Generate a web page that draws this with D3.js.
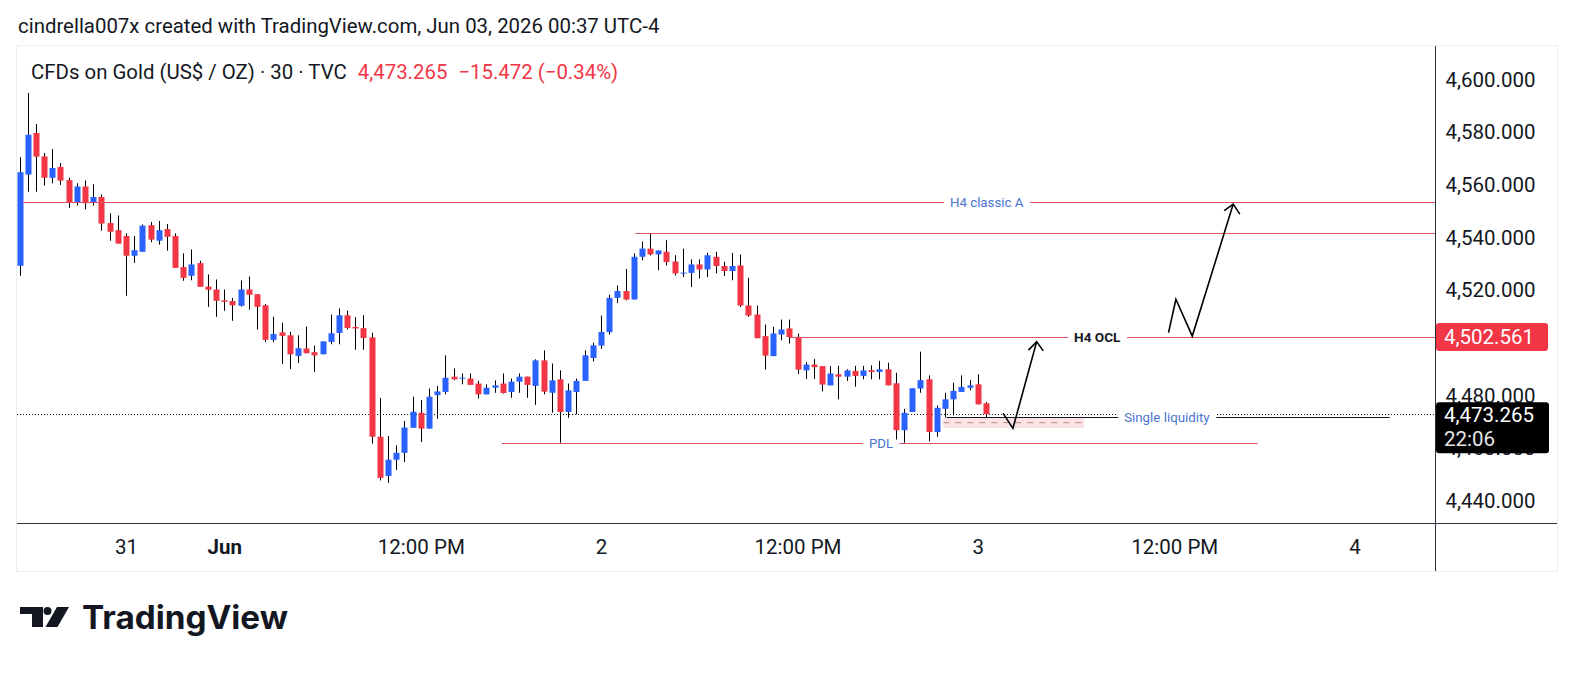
<!DOCTYPE html>
<html>
<head>
<meta charset="utf-8">
<script src="https://cdn.jsdelivr.net/npm/d3@7/dist/d3.min.js"></script>
<style>
  body { margin: 0; background: #fff; }
  svg { display: block; font-family: Roboto, "Noto Sans", sans-serif; }
</style>
</head>
<body>
<svg id="chart" width="1574" height="673"></svg>
<script>
// 30 min bars, index 0 = May 29 10:30 ... index 118 = Jun 3 00:30
const opens = [
  4529.6, 4564.2, 4580.0, 4571.1, 4563.0, 4567.1, 4562.1, 4553.7, 4559.7, 4553.7,
  4555.7, 4545.8, 4543.1, 4540.9, 4533.4, 4534.9, 4545.0, 4539.1, 4543.5, 4540.9,
  4529.1, 4525.8, 4530.6, 4521.7, 4520.6, 4516.5, 4516.2, 4514.4, 4520.6, 4518.8,
  4514.6, 4501.5, 4504.3, 4503.2, 4495.4, 4498.2, 4496.8, 4496.0, 4500.7, 4504.1,
  4510.8, 4506.4, 4505.9, 4502.4, 4464.7, 4449.8, 4456.0, 4458.6, 4468.1, 4473.8,
  4467.8, 4480.5, 4481.7, 4487.5, 4487.0, 4486.8, 4484.9, 4480.8, 4483.3, 4484.9,
  4481.7, 4485.6, 4487.5, 4484.0, 4493.7, 4481.4, 4486.5, 4474.1, 4481.7, 4485.9,
  4494.6, 4499.3, 4504.4, 4517.4, 4520.0, 4516.8, 4533.0, 4536.1, 4533.9, 4534.9,
  4531.2, 4526.9, 4526.9, 4530.1, 4528.2, 4533.0, 4529.5, 4527.6, 4529.7, 4514.5,
  4511.1, 4502.9, 4495.3, 4503.5, 4505.8, 4502.6, 4489.9, 4492.1, 4491.5, 4484.2,
  4488.4, 4487.5, 4489.7, 4487.8, 4490.0, 4489.3, 4490.3, 4485.0, 4467.2, 4474.1,
  4483.0, 4486.5, 4466.5, 4475.3, 4478.9, 4481.7, 4483.3, 4484.6, 4477.4
];
const highs = [
  4570.8, 4595.2, 4583.4, 4572.4, 4573.9, 4568.6, 4563.0, 4560.9, 4562.0, 4560.5,
  4556.7, 4549.5, 4548.7, 4541.9, 4540.9, 4545.3, 4546.2, 4546.6, 4545.4, 4541.9,
  4534.3, 4535.8, 4531.5, 4526.3, 4524.4, 4520.6, 4517.4, 4524.0, 4525.5, 4518.8,
  4515.1, 4510.3, 4508.0, 4504.5, 4503.2, 4506.5, 4499.3, 4500.9, 4511.1, 4513.4,
  4512.6, 4510.1, 4510.8, 4504.2, 4479.4, 4465.0, 4461.4, 4470.7, 4479.9, 4478.7,
  4483.0, 4484.0, 4495.6, 4490.6, 4488.7, 4488.7, 4485.9, 4484.6, 4486.1, 4488.7,
  4486.8, 4488.7, 4487.5, 4494.1, 4497.5, 4492.5, 4489.9, 4484.9, 4486.8, 4497.5,
  4500.4, 4510.7, 4518.6, 4522.1, 4528.4, 4534.3, 4538.8, 4541.9, 4535.4, 4539.3,
  4533.6, 4536.1, 4532.0, 4532.0, 4534.5, 4534.9, 4531.1, 4534.5, 4533.9, 4525.0,
  4514.5, 4507.3, 4506.4, 4509.2, 4509.2, 4503.9, 4493.0, 4494.2, 4491.5, 4491.5,
  4491.6, 4490.3, 4491.6, 4491.6, 4491.8, 4493.5, 4492.8, 4489.0, 4475.3, 4483.1,
  4497.0, 4488.0, 4476.6, 4481.4, 4485.2, 4488.0, 4486.2, 4488.4, 4477.9
];
const lows = [
  4525.8, 4557.7, 4557.7, 4560.0, 4560.9, 4560.3, 4551.6, 4552.4, 4551.0, 4552.4,
  4542.9, 4539.1, 4538.0, 4518.2, 4530.7, 4534.9, 4538.5, 4537.6, 4535.3, 4528.8,
  4523.9, 4524.1, 4521.6, 4514.0, 4510.2, 4512.5, 4508.7, 4514.1, 4512.9, 4505.4,
  4500.7, 4500.7, 4492.3, 4490.4, 4492.7, 4496.4, 4489.3, 4496.0, 4499.8, 4499.8,
  4505.4, 4497.7, 4497.7, 4462.1, 4448.1, 4447.2, 4452.1, 4455.1, 4468.1, 4462.7,
  4467.8, 4471.5, 4480.8, 4486.2, 4484.6, 4484.4, 4479.2, 4480.8, 4481.4, 4481.1,
  4479.5, 4481.4, 4479.5, 4476.8, 4480.8, 4473.8, 4462.4, 4471.9, 4473.2, 4485.9,
  4493.3, 4498.0, 4503.5, 4515.5, 4516.5, 4516.8, 4531.7, 4533.5, 4527.9, 4529.7,
  4525.9, 4525.3, 4521.5, 4524.8, 4525.3, 4526.7, 4525.7, 4524.1, 4514.0, 4510.2,
  4502.1, 4490.2, 4495.3, 4501.3, 4500.1, 4488.5, 4486.6, 4486.6, 4481.9, 4484.2,
  4478.9, 4485.9, 4483.7, 4486.5, 4486.5, 4486.5, 4484.2, 4462.4, 4462.4, 4474.1,
  4481.4, 4463.0, 4464.7, 4471.3, 4472.8, 4481.7, 4482.4, 4477.0, 4471.3
];
const closes = [
  4565.1, 4579.3, 4571.0, 4563.0, 4566.7, 4561.9, 4553.7, 4559.7, 4553.3, 4555.7,
  4545.6, 4542.5, 4538.0, 4533.4, 4535.5, 4544.8, 4539.5, 4543.1, 4540.6, 4528.8,
  4525.0, 4530.1, 4521.6, 4520.5, 4516.3, 4515.9, 4514.6, 4520.6, 4518.6, 4514.0,
  4501.5, 4503.7, 4503.0, 4496.0, 4498.3, 4496.4, 4495.6, 4500.9, 4504.0, 4510.8,
  4506.0, 4505.8, 4502.2, 4464.7, 4449.1, 4456.0, 4458.6, 4468.2, 4474.2, 4467.8,
  4479.9, 4481.9, 4487.1, 4486.5, 4487.1, 4484.4, 4480.8, 4483.3, 4484.2, 4481.3,
  4485.6, 4487.5, 4484.4, 4493.7, 4481.8, 4486.1, 4474.1, 4482.3, 4485.9, 4495.6,
  4499.4, 4504.5, 4517.4, 4520.0, 4516.8, 4533.0, 4536.1, 4533.9, 4535.4, 4531.0,
  4526.7, 4527.0, 4530.1, 4528.2, 4533.6, 4529.5, 4527.6, 4529.5, 4514.5, 4510.7,
  4502.1, 4495.5, 4503.9, 4505.4, 4502.5, 4490.2, 4492.1, 4491.1, 4484.5, 4488.7,
  4487.5, 4489.9, 4487.8, 4489.9, 4489.3, 4490.3, 4484.2, 4467.2, 4473.8, 4483.1,
  4486.2, 4466.5, 4475.7, 4478.9, 4482.1, 4483.6, 4484.2, 4477.0, 4473.265
];

const timeTickIdx = [13, 25, 49, 71, 95, 117, 141, 163];
const timeTickText = ["31", "Jun", "12:00 PM", "2", "12:00 PM", "3", "12:00 PM", "4"];
// 4,500.000 sits under the red level label, so it is not listed
const priceTicks = [4440, 4460, 4480, 4520, 4540, 4560, 4580, 4600];

const lastPrice = 4473.265;
const levelPrice = 4502.561;

// drawn levels
const levelStart = [0.4, 75.2, 94.1, 58.9, 113.2];
const levelEnd = [175, 175, 175, 151.2, 167.3];
const levelPriceArr = [4553.7, 4542.2, 4502.561, 4462.3, 4472.1];
const levelLabel = ["H4 classic A", "", "H4 OCL", "PDL", "Single liquidity"];
const levelLabelIdx = [118.1, 0, 131.6, 105.2, 140.1];

// zone box below the liquidity line
const boxIdx = [112.8, 130.0];
const boxPrice = [4472.1, 4468.0];

// hand-drawn arrows: [idx, price]
const arrow1 = [[120.1, 4473.6], [121.3, 4467.9], [124.2, 4500.8]];
const arrow1Head = [[123.2, 4497.6], [124.2, 4500.8], [125.0, 4497.3]];
const arrow2 = [[140.3, 4504.2], [141.2, 4516.9], [143.2, 4502.9], [148.2, 4553.0]];
const arrow2Head = [[147.1, 4550.5], [148.2, 4553.0], [149.0, 4549.2]];

const upColor = "#2962ff", downColor = "#f23645", lineRed = "#e0505f", textBlue = "#4a74cf";

const plotL = 17, plotR = 1435, plotT = 46, plotB = 523, frameR = 1557, frameB = 571;

const svg = d3.select("#chart");

const x = d3.scaleLinear().domain([0, 118]).range([19.5, 985.9]);
const y = d3.scaleLinear().domain([4440, 4600]).range([501.85, 80.25]);

// header
svg.append("text").attr("x", 18).attr("y", 33)
  .attr("font-size", 20.4).attr("fill", "#131722")
  .text("cindrella007x created with TradingView.com, Jun 03, 2026 00:37 UTC-4");

// frame
svg.append("rect").attr("x", plotL - 0.5).attr("y", plotT - 0.5)
  .attr("width", frameR - plotL + 1).attr("height", frameB - plotT + 1)
  .attr("fill", "none").attr("stroke", "#eceef2");

svg.append("defs").append("clipPath").attr("id", "plot")
  .append("rect").attr("x", plotL).attr("y", plotT)
  .attr("width", plotR - plotL).attr("height", plotB - plotT);

const plot = svg.append("g").attr("clip-path", "url(#plot)");

// current price dotted line
plot.append("line")
  .attr("x1", plotL).attr("x2", plotR)
  .attr("y1", Math.round(y(lastPrice)) + 0.5).attr("y2", Math.round(y(lastPrice)) + 0.5)
  .attr("stroke", "#131722").attr("stroke-dasharray", "1,2");

// candles
const bars = d3.range(opens.length);
plot.selectAll(".wick").data(bars).enter().append("line")
  .attr("x1", i => Math.round(x(i)) + 0.5).attr("x2", i => Math.round(x(i)) + 0.5)
  .attr("y1", i => y(highs[i])).attr("y2", i => y(lows[i]))
  .attr("stroke", "#000").attr("stroke-width", 1);

plot.selectAll(".body").data(bars).enter().append("rect")
  .attr("x", i => Math.round(x(i)) - 2.5)
  .attr("width", 6)
  .attr("y", i => y(Math.max(opens[i], closes[i])))
  .attr("height", i => Math.max(1, Math.abs(y(opens[i]) - y(closes[i]))))
  .attr("fill", i => closes[i] >= opens[i] ? upColor : downColor);

// zone box
plot.append("rect")
  .attr("x", x(boxIdx[0])).attr("width", x(boxIdx[1]) - x(boxIdx[0]))
  .attr("y", y(boxPrice[0])).attr("height", y(boxPrice[1]) - y(boxPrice[0]))
  .attr("fill", "#fbe3e5");
plot.append("line")
  .attr("x1", x(boxIdx[0])).attr("x2", x(boxIdx[1]))
  .attr("y1", y((boxPrice[0] + boxPrice[1]) / 2)).attr("y2", y((boxPrice[0] + boxPrice[1]) / 2))
  .attr("stroke", "#b58a90").attr("stroke-dasharray", "6,6");

// levels
levelPriceArr.forEach((p, k) => {
  const yy = Math.round(y(p)) + 0.5;
  plot.append("line")
    .attr("x1", x(levelStart[k])).attr("x2", x(levelEnd[k]))
    .attr("y1", yy).attr("y2", yy)
    .attr("stroke", k === 4 ? "#131722" : lineRed).attr("stroke-width", 1);
});

levelPriceArr.forEach((p, k) => {
  if (!levelLabel[k]) return;
  const yy = Math.round(y(p)) + 0.5;
  const bold = levelLabel[k] === "H4 OCL";
  const t = plot.append("text")
    .attr("x", x(levelLabelIdx[k])).attr("y", yy)
    .attr("text-anchor", "middle").attr("dy", "0.35em")
    .attr("font-size", bold ? 13.6 : 13.3)
    .attr("font-weight", bold ? 700 : 400)
    .attr("fill", bold ? "#131722" : textBlue)
    .text(levelLabel[k]);
  const bb = t.node().getBBox();
  plot.insert("rect", () => t.node())
    .attr("x", bb.x - 6).attr("y", yy - 4)
    .attr("width", bb.width + 12).attr("height", 8)
    .attr("fill", "#fff");
});

// arrows
const line = d3.line().x(d => x(d[0])).y(d => y(d[1]));
[arrow1, arrow1Head, arrow2, arrow2Head].forEach(pts => {
  plot.append("path").attr("d", line(pts))
    .attr("fill", "none").attr("stroke", "#000").attr("stroke-width", 1.6)
    .attr("stroke-linejoin", "miter");
});

// legend
const legend = svg.append("text").attr("x", 31).attr("y", 79).attr("font-size", 20.4);
legend.append("tspan").attr("fill", "#131722").text("CFDs on Gold (US$ / OZ) · 30 · TVC");
legend.append("tspan").attr("fill", downColor).attr("dx", 11).text("4,473.265");
legend.append("tspan").attr("fill", downColor).attr("dx", 11).text("\u221215.472 (\u22120.34%)");

// axes lines
svg.append("line").attr("x1", plotL).attr("x2", frameR)
  .attr("y1", plotB + 0.5).attr("y2", plotB + 0.5).attr("stroke", "#2a2e39");
svg.append("line").attr("x1", plotR + 0.5).attr("x2", plotR + 0.5)
  .attr("y1", plotT).attr("y2", frameB).attr("stroke", "#2a2e39");

// price axis
const fmt = d3.format(",.3f");
const yAxis = d3.axisRight(y).tickValues(priceTicks).tickSize(0).tickPadding(10.5)
  .tickFormat(fmt);
svg.append("g").attr("transform", `translate(${plotR},0)`).call(yAxis)
  .call(g => g.select(".domain").remove())
  .call(g => g.selectAll("text").attr("font-size", 20.5).attr("fill", "#131722")
    .attr("font-family", "Roboto, sans-serif").attr("dy", "0.28em"));

// time axis
const xAxis = d3.axisBottom(x).tickValues(timeTickIdx).tickSize(0).tickPadding(16)
  .tickFormat((d, i) => timeTickText[i]);
svg.append("g").attr("transform", `translate(0,${plotB})`).call(xAxis)
  .call(g => g.select(".domain").remove())
  .call(g => g.selectAll("text").attr("font-size", 20.5).attr("fill", "#131722")
    .attr("font-family", "Roboto, sans-serif")
    .attr("font-weight", (d, i) => timeTickText[i] === "Jun" ? 700 : 400));

// price labels on axis
const lvY = y(levelPrice);
svg.append("rect").attr("x", plotR + 1).attr("y", lvY - 14).attr("width", 112).attr("height", 28)
  .attr("rx", 3).attr("fill", downColor);
svg.append("text").attr("x", plotR + 9).attr("y", lvY).attr("dy", "0.36em")
  .attr("font-size", 20.5).attr("fill", "#fff").text(fmt(levelPrice));

const lpY = y(lastPrice);
svg.append("rect").attr("x", plotR + 1).attr("y", lpY - 12).attr("width", 113).attr("height", 51)
  .attr("rx", 3).attr("fill", "#000");
svg.append("text").attr("x", plotR + 9).attr("y", lpY).attr("dy", "0.36em")
  .attr("font-size", 20.5).attr("fill", "#fff").text(fmt(lastPrice));
svg.append("text").attr("x", plotR + 9).attr("y", lpY + 24).attr("dy", "0.36em")
  .attr("font-size", 20.5).attr("fill", "#e6e6e6").text("22:06");

// TradingView logo
const logo = svg.append("g").attr("fill", "#131722");
logo.append("path").attr("d", "M20 607H43V627H32V614H20Z");
logo.append("circle").attr("cx", 47.5).attr("cy", 611).attr("r", 4);
logo.append("path").attr("d", "M57 607H69L57.5 627H45.5Z");
svg.append("text").attr("x", 82).attr("y", 629).attr("font-size", 32)
  .attr("font-family", "Inter, 'Open Sans', sans-serif").attr("font-weight", 700)
  .attr("fill", "#131722").attr("textLength", 206).attr("lengthAdjust", "spacingAndGlyphs")
  .text("TradingView");
</script>
</body>
</html>
